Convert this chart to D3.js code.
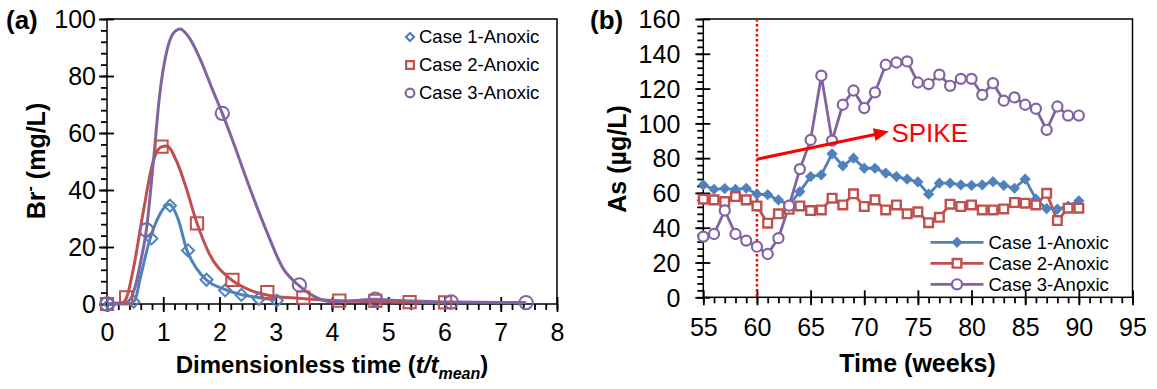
<!DOCTYPE html>
<html>
<head>
<meta charset="utf-8">
<script src="https://cdn.jsdelivr.net/npm/d3@7"></script>
<style>
  body { margin: 0; background: #fff; }
  text { font-family: "Liberation Sans", Arial, sans-serif; }
</style>
</head>
<body>
<svg id="chart" width="1157" height="389"></svg>
<script>
// ---- panel (a): tracer breakthrough ----
const seriesNames = ["Case 1-Anoxic", "Case 2-Anoxic", "Case 3-Anoxic"];
const colors = ["#4F81BD", "#C0504D", "#8064A2"];

// measured points
const a1T = [0.05, 0.47, 0.79, 1.12, 1.44, 1.77, 2.1, 2.39, 2.7, 3.02];
const a1V = [0, 0.8, 23, 34.5, 18.8, 8.5, 4.8, 3.2, 1.8, 1.2];
const a2T = [0, 0.34, 0.97, 1.6, 2.23, 2.85, 3.49, 4.13, 4.77, 5.38, 6.01];
const a2V = [0, 2.3, 55.2, 28.3, 8.5, 4.2, 2.2, 1.2, 1.1, 0.7, 0.6];
const a3T = [0, 0.7, 2.05, 3.42, 4.77, 6.12, 7.45];
const a3V = [0, 26, 66.9, 6.7, 1.7, 0.7, 0.5];

// fitted curves [t, value]
const fit1 = [[0, 0], [0.4, 0], [0.5, 1.5], [0.59, 9], [0.76, 22.5], [0.94, 31.5], [1.1, 35], [1.27, 29.5],
  [1.41, 19.5], [1.59, 12.5], [1.77, 8.4], [2.07, 5.3], [2.36, 3.4], [2.72, 2.2], [3.01, 1.4]];
const fit2 = [[0, 0], [0.28, 0.5], [0.35, 2.3], [0.47, 12.5], [0.645, 32.4], [0.82, 50], [0.97, 55.2], [1.06, 55.4],
  [1.24, 50], [1.41, 40.6], [1.59, 28.9], [1.83, 17.2], [2.18, 9], [2.54, 4.9], [2.95, 2.8], [3.4, 2],
  [4.0, 1.2], [5.0, 0.7], [6.0, 0.5]];
const fit3 = [[0, 0], [0.35, 0.5], [0.5, 6], [0.6, 15], [0.7, 26], [0.82, 49], [0.94, 74], [1.06, 88.5],
  [1.18, 95], [1.3, 96.5], [1.47, 93.2], [1.65, 86.2], [1.89, 74.5], [2.05, 66.9], [2.24, 57], [2.54, 40.6],
  [2.84, 25.4], [3.13, 12.5], [3.4, 6.7], [3.7, 2.5], [4.0, 0.8], [4.4, 1.2], [4.75, 1.7], [5.2, 1.2],
  [6.1, 0.7], [7.45, 0.5]];

const aXTicks = [0, 1, 2, 3, 4, 5, 6, 7, 8];
const aYTicks = [0, 20, 40, 60, 80, 100];

// ---- panel (b): arsenic vs time ----
const weeks = d3.range(55, 91);
const bCase1 = [64.6, 62.1, 62.5, 62, 62.7, 59.3, 59, 56, 53.1, 60.8, 69.4, 70.4, 82.5, 75.6, 80, 74.2, 74.2, 71.4,
  69.4, 67.9, 66.3, 59.3, 65.6, 65.6, 64.6, 64.4, 64.6, 66.5, 64.4, 62.7, 67.9, 56.4, 51, 50.7, 52.5, 55.5];
const bCase2 = [56.4, 56, 55, 57.9, 56, 52.5, 42.6, 48, 50.6, 52.5, 49.9, 50.2, 57, 53.1, 59.5, 52.2, 56, 50.2,
  53.1, 48, 49.1, 42.9, 46, 53.5, 52.2, 53.1, 50.2, 50.2, 50.8, 54.5, 54.1, 53.1, 59.8, 44.1, 51.2, 51.2];
const bCase3 = [34.9, 36.4, 49.9, 36.4, 32.6, 29.1, 24.9, 34, 52.7, 73.7, 90.5, 127.4, 90.1, 110.7, 118.9, 108.8,
  117.8, 133.7, 135, 135.6, 123.5, 122.6, 128, 121.6, 125.6, 125.6, 116.4, 123.1, 113, 114.9, 110.7, 108.4,
  96.3, 109.7, 104.5, 104.5];

const bXTicks = [55, 60, 65, 70, 75, 80, 85, 90, 95];
const bYTicks = [0, 20, 40, 60, 80, 100, 120, 140, 160];
const spikeWeek = 60;
const arrowFrom = [60, 79.4];
const arrowTo = [72.3, 95.3];

const svg = d3.select("#chart");

// helper: framed axes with crossing major ticks and outward minor ticks
function drawFrame(g, x, y, xTicks, yTicks, xMinor, yMinor, opts) {
  const [x0, x1] = x.range();
  const [y0, y1] = y.range();
  g.append("rect").attr("x", x0).attr("y", y1).attr("width", x1 - x0).attr("height", y0 - y1)
    .attr("fill", "none").attr("stroke", "#000").attr("stroke-width", 1.5);

  const xm = g.append("g").attr("transform", `translate(0,${y0})`)
    .call(d3.axisBottom(x).tickValues(xMinor).tickSize(6).tickFormat(""));
  const xa = g.append("g").attr("transform", `translate(0,${y0})`)
    .call(d3.axisBottom(x).tickValues(xTicks).tickSize(8).tickFormat(d3.format("d")));
  xa.selectAll(".tick line").attr("y1", -7);
  xa.selectAll(".tick text").attr("y", opts.xLabelDy).attr("dy", 0)
    .style("font-size", opts.fs + "px").attr("fill", "#000");

  const ym = g.append("g").attr("transform", `translate(${x0},0)`)
    .call(d3.axisLeft(y).tickValues(yMinor).tickSize(6).tickFormat(""));
  const ya = g.append("g").attr("transform", `translate(${x0},0)`)
    .call(d3.axisLeft(y).tickValues(yTicks).tickSize(8).tickFormat(d3.format("d")));
  ya.selectAll(".tick line").attr("x1", 7);
  ya.selectAll(".tick text").attr("x", -opts.yLabelDx).attr("dy", "0.35em")
    .style("font-size", opts.fs + "px").attr("fill", "#000");

  [xm, xa, ym, ya].forEach(a => {
    a.select(".domain").remove();
    a.selectAll(".tick line").attr("stroke", "#000").attr("stroke-width", 1.8);
  });
}

// square diamond = square turned 45 degrees
const rot = [45, 0, 0];

// ---------------- panel (a) ----------------
const xa = d3.scaleLinear().domain([0, 8]).range([107, 557]);
const ya = d3.scaleLinear().domain([0, 100]).range([304, 19]);
const ga = svg.append("g");

drawFrame(ga, xa, ya, aXTicks, aYTicks,
  d3.range(0, 8.001, 0.2).map(v => +v.toFixed(1)), d3.range(0, 100.1, 4),
  { fs: 25, xLabelDy: 37, yLabelDx: 11 });

const fitLine = d3.line().x(d => xa(d[0])).y(d => ya(d[1])).curve(d3.curveMonotoneX);
[fit1, fit2, fit3].forEach((f, i) => {
  ga.append("path").datum(f).attr("d", fitLine)
    .attr("fill", "none").attr("stroke", colors[i]).attr("stroke-width", 3);
});

const aPts = [
  a1T.map((t, i) => [t, a1V[i]]),
  a2T.map((t, i) => [t, a2V[i]]),
  a3T.map((t, i) => [t, a3V[i]])
];
const symA = [d3.symbolSquare, d3.symbolSquare, d3.symbolCircle];
const sizeA = [72, 150, 140];
aPts.forEach((pts, i) => {
  ga.append("g").selectAll("path").data(pts).join("path")
    .attr("transform", d => `translate(${xa(d[0])},${ya(d[1])}) rotate(${rot[i]})`)
    .attr("d", d3.symbol(symA[i], sizeA[i]))
    .attr("fill", "none").attr("stroke", colors[i]).attr("stroke-width", 2);
});

// legend (a)
const legA = ga.append("g");
seriesNames.forEach((name, i) => {
  const yy = 37 + i * 28;
  legA.append("path").attr("transform", `translate(410,${yy}) rotate(${rot[i]})`)
    .attr("d", d3.symbol(symA[i], [32, 60, 60][i]))
    .attr("fill", "none").attr("stroke", colors[i]).attr("stroke-width", 2.2);
  legA.append("text").attr("x", 419).attr("y", yy).attr("dy", "0.35em")
    .style("font-size", "18.5px").text(name);
});

// titles (a)
ga.append("text").attr("x", 6).attr("y", 29).style("font-size", "26px").style("font-weight", "bold").text("(a)");
const yta = ga.append("text").attr("transform", "translate(45,161) rotate(-90)")
  .attr("text-anchor", "middle").style("font-size", "25px").style("font-weight", "bold");
yta.append("tspan").text("Br");
yta.append("tspan").attr("dy", -10).style("font-size", "16px").text("-");
yta.append("tspan").attr("dy", 10).text(" (mg/L)");

const xta = ga.append("text").attr("x", 332).attr("y", 373).attr("text-anchor", "middle")
  .style("font-size", "24px").style("font-weight", "bold");
xta.append("tspan").text("Dimensionless time (");
xta.append("tspan").style("font-style", "italic").text("t/t");
xta.append("tspan").style("font-style", "italic").style("font-size", "16px").attr("dy", 6).text("mean");
xta.append("tspan").attr("dy", -6).text(")");

// ---------------- panel (b) ----------------
const xb = d3.scaleLinear().domain([55, 95]).range([703.3, 1132.5]);
const yb = d3.scaleLinear().domain([0, 160]).range([297.3, 19]);
const gb = svg.append("g");

drawFrame(gb, xb, yb, bXTicks, bYTicks, d3.range(55, 96, 1), d3.range(0, 161, 4),
  { fs: 25, xLabelDy: 39, yLabelDx: 23 });

// spike marker line
gb.append("line").attr("x1", xb(spikeWeek)).attr("x2", xb(spikeWeek))
  .attr("y1", yb(160)).attr("y2", yb(0))
  .attr("stroke", "#FF0000").attr("stroke-width", 2.5).attr("stroke-dasharray", "2.5,2.5");

const bSeries = [bCase1, bCase2, bCase3];
const lineB = d3.line().x((d, i) => xb(weeks[i])).y(d => yb(d));
bSeries.forEach((s, i) => {
  gb.append("path").datum(s).attr("d", lineB)
    .attr("fill", "none").attr("stroke", colors[i]).attr("stroke-width", 2.8);
});

function markerB(sel, i) {
  if (i === 0) {
    sel.attr("d", d3.symbol(d3.symbolSquare, 48)).attr("fill", colors[0]).attr("stroke", colors[0]).attr("stroke-width", 1);
  } else if (i === 1) {
    sel.attr("d", d3.symbol(d3.symbolSquare, 75)).attr("fill", "#fff").attr("stroke", colors[1]).attr("stroke-width", 2.4);
  } else {
    sel.attr("d", d3.symbol(d3.symbolCircle, 80)).attr("fill", "#fff").attr("stroke", colors[2]).attr("stroke-width", 2.2);
  }
}
bSeries.forEach((s, i) => {
  gb.append("g").selectAll("path").data(s).join("path")
    .attr("transform", (d, j) => `translate(${xb(weeks[j])},${yb(d)}) rotate(${rot[i]})`)
    .call(markerB, i);
});

// arrow + SPIKE
const ax0 = xb(arrowFrom[0]), ay0 = yb(arrowFrom[1]);
const ax1 = xb(arrowTo[0]), ay1 = yb(arrowTo[1]);
const ang = Math.atan2(ay1 - ay0, ax1 - ax0);
const headL = 15, headW = 6.5;
gb.append("line").attr("x1", ax0).attr("y1", ay0)
  .attr("x2", ax1 - headL * Math.cos(ang) * 0.8).attr("y2", ay1 - headL * Math.sin(ang) * 0.8)
  .attr("stroke", "#FF0000").attr("stroke-width", 3);
const bx = ax1 - headL * Math.cos(ang), by = ay1 - headL * Math.sin(ang);
gb.append("path")
  .attr("d", `M${ax1},${ay1}L${bx - headW * Math.sin(ang)},${by + headW * Math.cos(ang)}L${bx + headW * Math.sin(ang)},${by - headW * Math.cos(ang)}Z`)
  .attr("fill", "#FF0000");
gb.append("text").attr("x", ax1 + 2.5).attr("y", 142).attr("fill", "#FF0000")
  .style("font-size", "26px").text("SPIKE");

// legend (b)
const legB = gb.append("g");
seriesNames.forEach((name, i) => {
  const yy = 242.3 + i * 21;
  legB.append("line").attr("x1", 930.5).attr("x2", 983.5).attr("y1", yy).attr("y2", yy)
    .attr("stroke", colors[i]).attr("stroke-width", 2.8);
  legB.append("path").attr("transform", `translate(957,${yy}) rotate(${rot[i]})`).call(markerB, i);
  legB.append("text").attr("x", 988.5).attr("y", yy).attr("dy", "0.35em")
    .style("font-size", "18.5px").text(name);
});

// titles (b)
gb.append("text").attr("x", 590).attr("y", 29).style("font-size", "26px").style("font-weight", "bold").text("(b)");
gb.append("text").attr("transform", "translate(626,159) rotate(-90)")
  .attr("text-anchor", "middle").style("font-size", "25px").style("font-weight", "bold").text("As (µg/L)");
gb.append("text").attr("x", 917.5).attr("y", 372).attr("text-anchor", "middle")
  .style("font-size", "25px").style("font-weight", "bold").text("Time (weeks)");
</script>
</body>
</html>
